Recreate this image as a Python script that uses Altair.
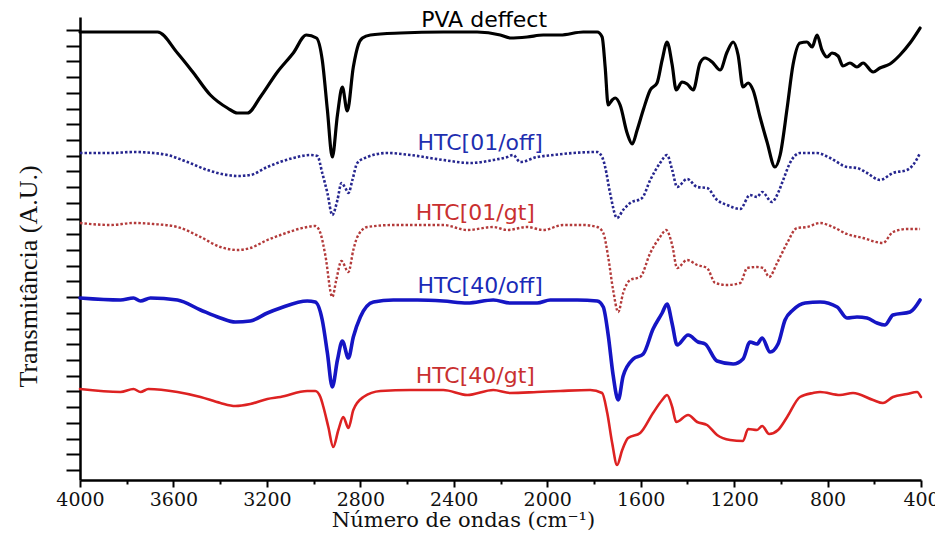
import altair as alt
import pandas as pd

# ---- data (wavenumber in cm-1, transmittance in arbitrary units, offset per spectrum)
pva_wn = [4000, 3827, 3668, 3583, 3514, 3442, 3369, 3326, 3283, 3228, 3155, 3087, 3031, 2988, 2963, 2941,
          2920, 2898, 2877, 2856, 2830, 2809, 2791, 2757, 2629, 2445, 2300, 2201, 2158, 2086, 2017, 1944,
          1846, 1786, 1765, 1752, 1739, 1722, 1709, 1688, 1658, 1636, 1615, 1589, 1559, 1530, 1508, 1487,
          1465, 1448, 1423, 1401, 1375, 1346, 1324, 1294, 1260, 1230, 1204, 1183, 1162, 1140, 1119, 1089,
          1059, 1025, 1003, 973, 948, 918, 888, 866, 845, 824, 802, 781, 755, 734, 704, 674, 648, 605,
          576, 533, 490, 447, 404]
pva_au = [447, 447, 447, 426, 406, 384, 371, 366, 366, 382, 407, 426, 444, 441, 419, 369,
          322, 364, 392, 368, 412, 434, 441, 444, 446, 447, 447, 444, 441, 442, 444, 444,
          447, 447, 442, 412, 374, 379, 381, 374, 346, 335, 349, 369, 389, 396, 419, 437,
          414, 389, 397, 395, 389, 416, 421, 417, 409, 427, 437, 424, 392, 396, 389, 362,
          337, 312, 324, 371, 414, 436, 437, 432, 444, 429, 422, 426, 423, 413, 416, 412, 416, 407,
          411, 415, 424, 436, 451]

off01_wn = [4000, 3870, 3771, 3686, 3626, 3540, 3455, 3369, 3326, 3271, 3198, 3087, 3014, 2984, 2963, 2941,
            2920, 2898, 2881, 2864, 2851, 2834, 2813, 2770, 2685, 2586, 2445, 2329, 2231, 2171, 2146, 2116,
            2043, 1974, 1889, 1786, 1765, 1752, 1731, 1701, 1675, 1645, 1594, 1559, 1517, 1487, 1465, 1444,
            1401, 1358, 1316, 1273, 1230, 1174, 1132, 1102, 1080, 1038, 1012, 990, 961, 918, 845, 789,
            717, 674, 631, 576, 520, 460, 434, 404]
off01_au = [326, 326, 327, 326, 324, 317, 309, 304, 303, 304, 312, 321, 324, 323, 306, 286,
            264, 279, 296, 291, 286, 299, 316, 322, 326, 324, 319, 316, 319, 322, 324, 317,
            322, 324, 326, 327, 322, 312, 286, 261, 269, 276, 281, 299, 316, 324, 309, 292,
            300, 292, 291, 279, 274, 270, 284, 282, 287, 277, 286, 299, 316, 326, 326, 321,
            312, 311, 306, 299, 306, 309, 314, 326]

gt01_wn = [4000, 3870, 3771, 3686, 3583, 3484, 3399, 3326, 3271, 3198, 3142, 3027, 2993, 2971, 2950, 2920,
           2903, 2881, 2851, 2830, 2813, 2770, 2659, 2586, 2445, 2342, 2231, 2171, 2086, 2017, 1932, 1846,
           1786, 1760, 1739, 1718, 1696, 1675, 1645, 1602, 1559, 1517, 1491, 1465, 1444, 1401, 1358, 1316,
           1281, 1230, 1174, 1144, 1102, 1076, 1050, 1016, 973, 931, 888, 832, 777, 717, 648, 563,
           520, 460, 404]
gt01_au = [256, 254, 256, 255, 252, 242, 232, 229, 231, 239, 244, 252, 253, 246, 224, 182,
           199, 218, 207, 229, 242, 252, 254, 254, 254, 249, 252, 249, 252, 249, 254, 254,
           252, 246, 222, 189, 167, 186, 199, 202, 226, 242, 249, 234, 211, 219, 214, 211,
           196, 194, 196, 211, 212, 211, 202, 216, 236, 251, 252, 256, 252, 245, 241, 236,
           247, 250, 250]

off40_wn = [4000, 3827, 3771, 3741, 3698, 3583, 3484, 3399, 3335, 3271, 3198, 3142, 3027, 2993, 2963, 2941,
            2920, 2898, 2877, 2851, 2830, 2800, 2744, 2659, 2556, 2445, 2342, 2231, 2158, 2043, 1987, 1872,
            1786, 1760, 1739, 1718, 1696, 1675, 1632, 1589, 1547, 1508, 1487, 1465, 1444, 1397, 1354, 1324,
            1273, 1204, 1162, 1132, 1102, 1080, 1046, 1012, 982, 948, 896, 832, 759, 717, 674, 631,
            588, 554, 520, 447, 404]
off40_au = [181, 179, 181, 178, 181, 179, 169, 161, 157, 158, 166, 171, 178, 177, 159, 126,
            92, 119, 138, 121, 142, 162, 177, 179, 179, 178, 176, 179, 176, 176, 179, 179,
            178, 172, 144, 104, 79, 103, 120, 125, 150, 166, 175, 155, 134, 144, 137, 135,
            118, 115, 120, 137, 135, 141, 127, 135, 159, 169, 176, 177, 172, 161, 162, 161,
            156, 154, 164, 167, 179]

gt40_wn = [4000, 3827, 3771, 3741, 3707, 3583, 3484, 3399, 3335, 3271, 3198, 3142, 3027, 2993, 2971, 2958,
           2937, 2916, 2894, 2873, 2851, 2830, 2787, 2714, 2586, 2445, 2342, 2231, 2158, 2043, 1944, 1816,
           1765, 1743, 1722, 1701, 1679, 1654, 1602, 1547, 1508, 1487, 1465, 1448, 1397, 1358, 1316, 1273,
           1217, 1162, 1140, 1102, 1080, 1050, 1012, 973, 918, 862, 832, 747, 691, 605, 563, 520,
           460, 417, 400]
gt40_au = [90, 87, 90, 87, 90, 87, 82, 76, 73, 75, 80, 82, 88, 88, 82, 72,
           52, 32, 49, 62, 51, 69, 82, 88, 89, 89, 84, 89, 86, 87, 88, 89,
           86, 66, 36, 14, 29, 41, 46, 66, 79, 84, 72, 57, 64, 57, 54, 44,
           39, 38, 50, 49, 53, 45, 49, 62, 82, 86, 87, 84, 86, 79, 76, 82,
           85, 87, 82]

label_names = ["PVA deffect", "HTC[01/off]", "HTC[01/gt]", "HTC[40/off]", "HTC[40/gt]"]
label_wn = [2270, 2287, 2308, 2287, 2308]
label_au = [452, 329, 259, 186, 96]
label_colors = ["#000000", "#1f2fb0", "#c93030", "#1a2ab8", "#c93030"]

x_ticks = list(range(400, 4001, 200))

# ---- encodings shared by all layers
x_enc = alt.X(
    "wn:Q",
    scale=alt.Scale(domain=[4000, 400], nice=False, zero=False),
    axis=alt.Axis(
        values=x_ticks,
        format="d",
        labelExpr="datum.value % 400 == 0 ? datum.label : ''",
        labelFlush=False,
        labelOverlap=False,
        labelFont="DejaVu Serif",
        labelFontSize=19,
        labelColor="#111111",
        labelPadding=3,
        tickSize={"condition": {"test": "datum.value % 400 == 0", "value": 7}, "value": 4},
        tickWidth=2,
        tickColor="#000000",
        domainColor="#000000",
        domainWidth=2.5,
        grid=False,
        title="Número de ondas (cm⁻¹)",
        titleFont="DejaVu Serif",
        titleFontSize=21,
        titleFontWeight="normal",
        titleColor="#111111",
        titleX=383,
        titleY=46,
        titleAlign="center",
        titleBaseline="alphabetic",
    ),
)

y_ticks = [449 - 15.714 * k for k in range(29)]
y_enc = alt.Y(
    "au:Q",
    scale=alt.Scale(domain=[-1, 462], nice=False, zero=False),
    axis=alt.Axis(
        values=y_ticks,
        labels=False,
        tickSize=14,
        tickWidth=2,
        tickColor="#000000",
        domainColor="#000000",
        domainWidth=2.5,
        grid=False,
        title="Transmitância (A.U.)",
        titleFont="Liberation Serif",
        titleFontSize=26,
        titleFontWeight="normal",
        titleColor="#111111",
        titleAngle=270,
        titleX=-52,
        titleY=259,
        titleAlign="center",
        titleBaseline="middle",
    ),
)

specs = [
    (pva_wn, pva_au, "#000000", 3.2, None),
    (off01_wn, off01_au, "#26268f", 2.6, [2.5, 2.0]),
    (gt01_wn, gt01_au, "#b33a3a", 2.4, [2.5, 2.0]),
    (off40_wn, off40_au, "#1515c4", 3.6, None),
    (gt40_wn, gt40_au, "#dd2222", 2.6, None),
]

layers = []
for wn, au, color, width, dash in specs:
    df = pd.DataFrame({"wn": wn, "au": au})
    kw = dict(color=color, strokeWidth=width, interpolate="monotone", strokeJoin="round")
    if dash is not None:
        kw["strokeDash"] = dash
        kw["strokeCap"] = "butt"
    else:
        kw["strokeCap"] = "round"
    layers.append(alt.Chart(df).mark_line(**kw).encode(x=x_enc, y=y_enc))

labels_df = pd.DataFrame({"name": label_names, "wn": label_wn, "au": label_au, "col": label_colors})
text_layer = alt.Chart(labels_df).mark_text(
    font="DejaVu Sans", fontSize=22, align="center", baseline="alphabetic"
).encode(x=x_enc, y=y_enc, text="name:N", color=alt.Color("col:N", scale=None))
layers.append(text_layer)

chart = alt.layer(*layers).properties(
    width=841,
    height=463,
    autosize=alt.AutoSizeParams(type="none"),
    padding={"left": 72, "top": 9, "right": 14, "bottom": 52},
    background="white",
).configure_view(stroke=None)

chart.save("out.html", embed_options={"renderer": "svg", "actions": False})
